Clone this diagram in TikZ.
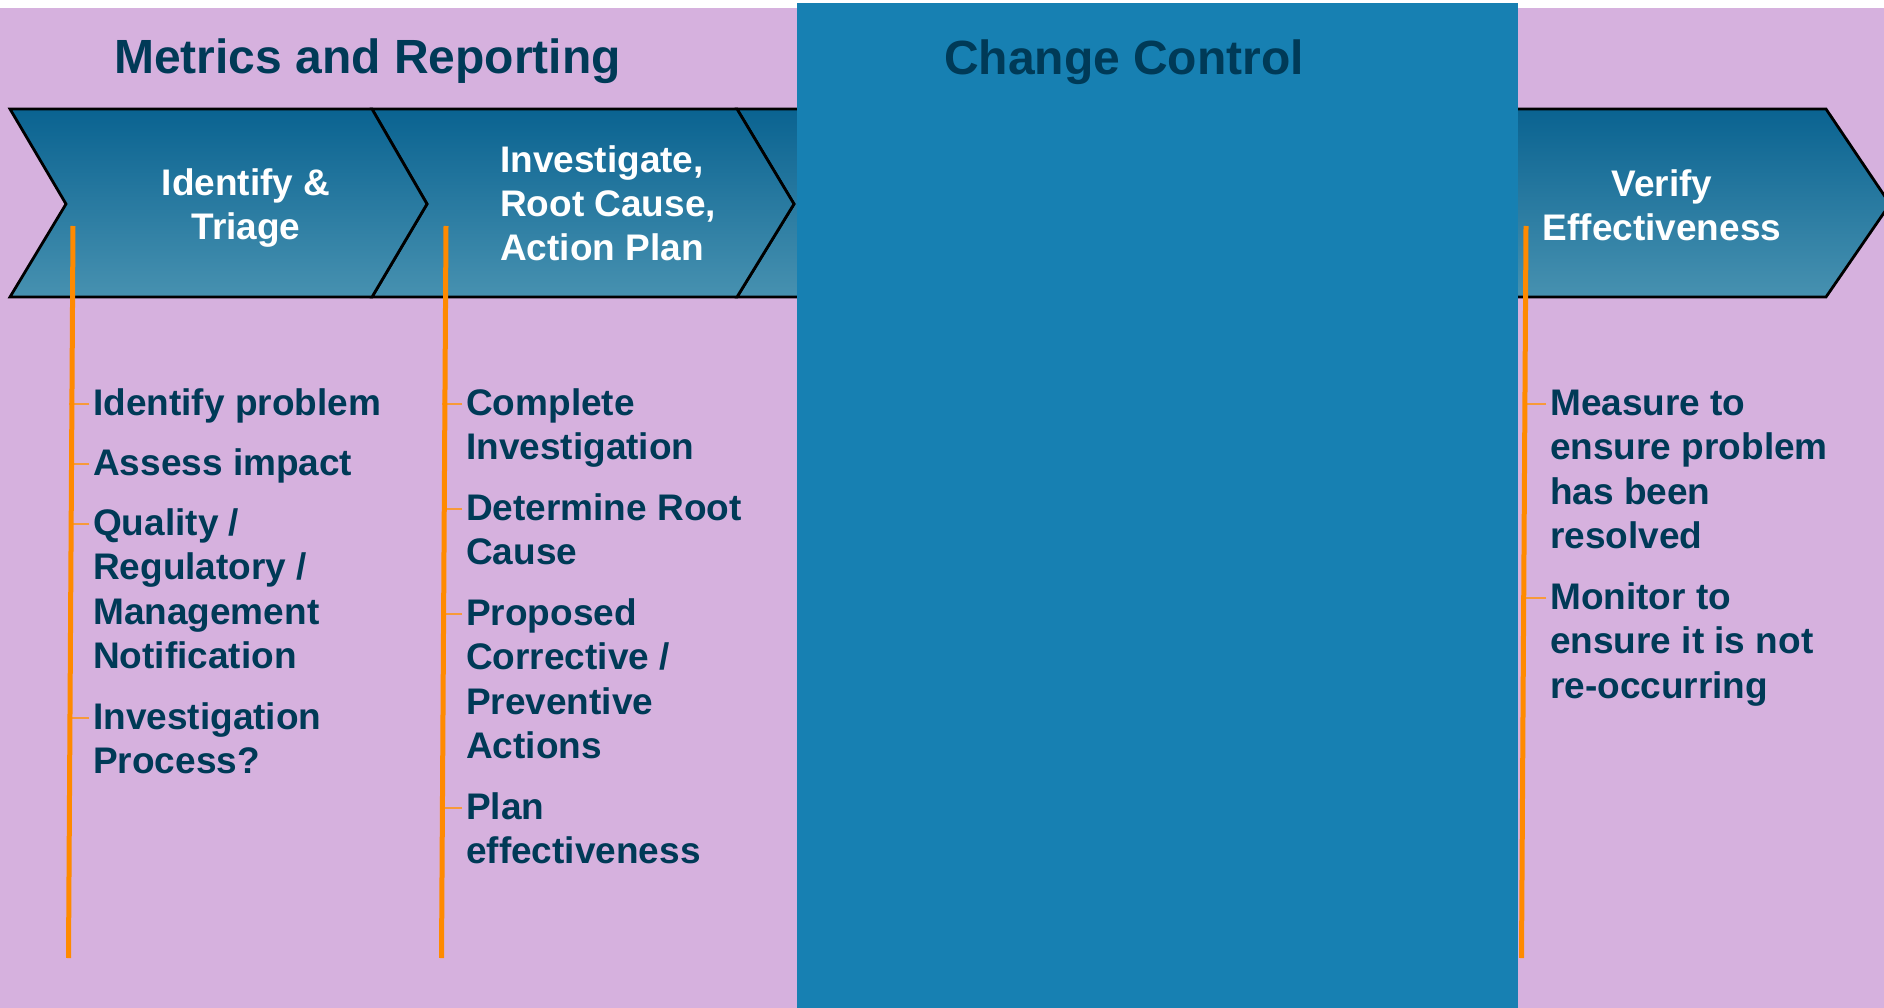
\documentclass[tikz,border=0pt]{standalone}
\usepackage{fontspec}
\setmainfont{Liberation Sans}
\definecolor{bgpurple}{HTML}{D6B1DE}
\definecolor{ccblue}{HTML}{1780B2}
\definecolor{chevtop}{HTML}{0A6391}
\definecolor{chevbot}{HTML}{4791B0}
\definecolor{navy}{HTML}{003A57}
\definecolor{orangeL}{HTML}{FF8A00}
\definecolor{orangeT}{HTML}{F79A3A}
\tikzset{
  chev/.style={draw=black, line width=2.8pt, line join=miter, top color=chevtop, bottom color=chevbot},
  titlesty/.style={inner sep=0pt, text=navy, font=\fontsize{48}{57}\selectfont\bfseries},
  chevtext/.style={inner sep=0pt, text=white, font=\fontsize{37}{44}\selectfont\bfseries},
  itemsty/.style={anchor=base west, inner sep=0pt, text=navy, font=\fontsize{37}{44.5}\selectfont\bfseries},
  vline/.style={draw=orangeL, line width=5pt},
  ticksty/.style={draw=orangeT, line width=1.8pt}
}
\newcommand{\itm}[1]{\parbox[t]{340pt}{\raggedright #1}}
\begin{document}
\begin{tikzpicture}[x=1pt,y=-1pt]
\useasboundingbox (0,0) rectangle (1884,1008);
\clip (0,0) rectangle (1884,1008);
\fill[white] (0,0) rectangle (1884,1008);
\fill[bgpurple] (0,8) rectangle (1884,1008);
% chevrons
\path[chev] (1450,109) -- (1826,109) -- (1890,204) -- (1826,297) -- (1450,297) -- (1500,204) -- cycle;
\path[chev] (737,109) -- (950,109) -- (950,297) -- (737,297) -- (794,204) -- cycle;
\path[chev] (372,109) -- (737,109) -- (794,204) -- (737,297) -- (372,297) -- (427,204) -- cycle;
\path[chev] (10,109) -- (372,109) -- (427,204) -- (372,297) -- (10,297) -- (66,204) -- cycle;
% change control block
\fill[ccblue] (797,3) rectangle (1518,1008);
% titles
\node[titlesty, anchor=base west] (title) at (114,73.5) {Metrics and Reporting};
\node[titlesty, anchor=base] (cc) at (1124,75) {Change Control};
% chevron texts
\node[chevtext, anchor=base] (t1) at (246,196) {\parbox[t]{320pt}{\centering Identify \&\\Triage}};
\node[chevtext, anchor=base west] (t2) at (500,173) {\parbox[t]{300pt}{\raggedright Investigate,\\Root Cause,\\Action Plan}};
\node[chevtext, anchor=base] (t4) at (1662,197) {\parbox[t]{320pt}{\centering Verify\\Effectiveness}};
% column 1
\node[itemsty] (a1) at (93,415) {\itm{Identify problem}};
\node[itemsty] (a2) at (93,475) {\itm{Assess impact}};
\node[itemsty] (a3) at (93,535) {\itm{Quality /\\Regulatory /\\Management\\Notification}};
\node[itemsty] (a4) at (93,729) {\itm{Investigation\\Process?}};
% column 2
\node[itemsty] (b1) at (466,415) {\itm{Complete\\Investigation}};
\node[itemsty] (b2) at (466,520) {\itm{Determine Root\\Cause}};
\node[itemsty] (b3) at (466,625) {\itm{Proposed\\Corrective /\\Preventive\\Actions}};
\node[itemsty] (b4) at (466,819) {\itm{Plan\\effectiveness}};
% column 3
\node[itemsty] (c1) at (1550,415) {\itm{Measure to\\ensure problem\\has been\\resolved}};
\node[itemsty] (c2) at (1550,609) {\itm{Monitor to\\ensure it is not\\re-occurring}};
% ticks
\foreach \n in {a1,a2,a3,a4,b1,b2,b3,b4,c1,c2}
  \draw[ticksty] ([xshift=-4pt,yshift=11pt]\n.base west) -- ++(-20,0);
% vertical orange lines
\coordinate (v1t) at (73,226);  \coordinate (v1b) at (68.5,958);
\coordinate (v2t) at (446,226); \coordinate (v2b) at (441.5,958);
\coordinate (v3t) at (1526,226);\coordinate (v3b) at (1521.5,958);
\draw[vline] (v1t) -- (v1b);
\draw[vline] (v2t) -- (v2b);
\draw[vline] (v3t) -- (v3b);
\end{tikzpicture}
\end{document}
